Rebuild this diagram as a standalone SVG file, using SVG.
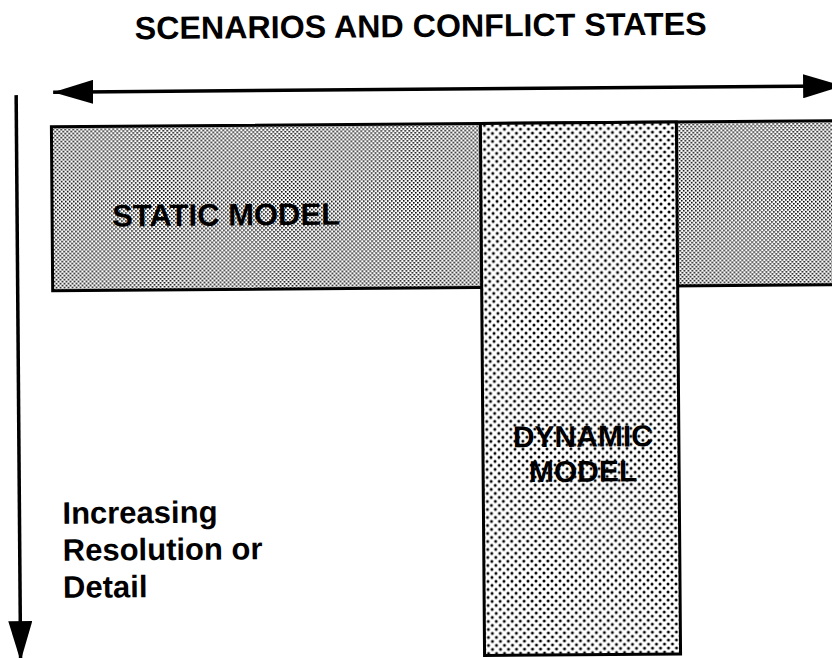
<svg xmlns="http://www.w3.org/2000/svg" width="832" height="658" viewBox="0 0 832 658">
  <defs>
    <pattern id="fine" width="4" height="4" patternUnits="userSpaceOnUse">
      <rect width="4" height="4" fill="#ffffff"/>
      <rect x="0" y="0" width="1.6" height="1.6" fill="#000"/>
      <rect x="2" y="2" width="1.6" height="1.6" fill="#000"/>
    </pattern>
    <pattern id="coarse" width="8" height="8" patternUnits="userSpaceOnUse">
      <rect width="8" height="8" fill="#ffffff"/>
      <circle cx="2" cy="2" r="1.5" fill="#000"/>
      <circle cx="6" cy="6" r="1.5" fill="#000"/>
    </pattern>
    <marker id="ah" viewBox="0 0 40 24" refX="40" refY="12" markerWidth="40" markerHeight="24" markerUnits="userSpaceOnUse" orient="auto-start-reverse">
      <path d="M0,0 L40,12 L0,24 Z" fill="#000"/>
    </marker>
    <style>
      .lbl { font-family: "Liberation Sans", Arial, Helvetica, sans-serif; font-weight: bold; fill: #000; }
      .box { stroke: #000; stroke-width: 3; }
      .conn { stroke: #000; stroke-width: 3.5; fill: none; }
    </style>
  </defs>
  <rect width="832" height="658" fill="#ffffff"/>
  <g transform="rotate(-0.45 416 329)">
    <text class="lbl" x="137" y="37" font-size="32" textLength="572" lengthAdjust="spacingAndGlyphs">SCENARIOS AND CONFLICT STATES</text>
    <g id="static-model">
      <rect class="box" x="53" y="124" width="800" height="164" fill="url(#fine)"/>
      <text class="lbl" x="113" y="224" font-size="31">STATIC MODEL</text>
    </g>
    <g id="dynamic-model">
      <rect class="box" x="482" y="124" width="196" height="532" fill="url(#coarse)"/>
      <text class="lbl" x="582" y="448" font-size="30" text-anchor="middle">DYNAMIC</text>
      <text class="lbl" x="582" y="483" font-size="30" text-anchor="middle">MODEL</text>
    </g>
    <g id="resolution-label">
      <text class="lbl" font-size="31">
        <tspan x="61" y="521">Increasing</tspan>
        <tspan x="61" y="558">Resolution or</tspan>
        <tspan x="61" y="595">Detail</tspan>
      </text>
    </g>
    <g id="connectors">
      <line class="conn" x1="55" y1="89.3" x2="845" y2="89.3" marker-start="url(#ah)" marker-end="url(#ah)"/>
      <line class="conn" x1="18" y1="92" x2="18" y2="658" marker-end="url(#ah)"/>
    </g>
  </g>
</svg>
